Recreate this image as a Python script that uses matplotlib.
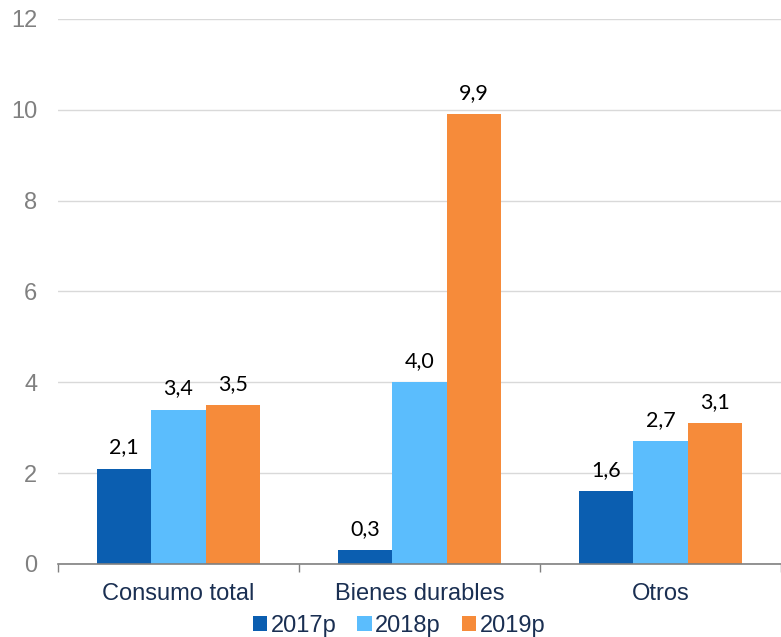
import numpy as np
import matplotlib
matplotlib.use("Agg")
import matplotlib.pyplot as plt

# Crecimiento del consumo por componente (%)
categories = ["Consumo total", "Bienes durables", "Otros"]
series_names = ["2017p", "2018p", "2019p"]
v2017 = [2.1, 0.3, 1.6]
v2018 = [3.4, 4.0, 2.7]
v2019 = [3.5, 9.9, 3.1]
yticks = [0, 2, 4, 6, 8, 10, 12]

colors = ["#0b5eb0", "#5bbdfd", "#f68b3a"]
text_font = "Liberation Sans"

fig = plt.figure(figsize=(7.81, 6.37), dpi=100)
ax = fig.add_axes([0.0743, 0.1146, 0.9257, 0.8556])

x = np.arange(len(categories))
width = 0.225
for i, (vals, name) in enumerate(zip([v2017, v2018, v2019], series_names)):
    bars = ax.bar(x + (i - 1) * width, vals, width, color=colors[i], label=name, zorder=3)
    for rect, v in zip(bars, vals):
        ax.annotate(f"{v:.1f}".replace(".", ","),
                    xy=(rect.get_x() + rect.get_width() / 2, rect.get_height()),
                    xytext=(0, 8), textcoords="offset points",
                    ha="center", va="bottom", fontsize=15.5, family="Lato", color="black")

ax.set_xlim(-0.5, len(categories) - 0.5)
ax.set_ylim(0, 12)
ax.set_yticks(yticks)
ax.set_yticklabels([str(t) for t in yticks], fontsize=17, family=text_font, color="#808080")
ax.tick_params(axis="y", length=0, pad=15)
ax.grid(axis="y", color="#d9d9d9", linewidth=1, zorder=0)

ax.set_xticks(x)
ax.set_xticklabels(categories, fontsize=17, family=text_font, color="#1a2f52")
ax.tick_params(axis="x", which="major", length=0, pad=14)
ax.set_xticks(np.arange(-0.5, len(categories)), minor=True)
ax.tick_params(axis="x", which="minor", length=6, width=1, color="#808080", direction="out")

for side in ["top", "right", "left"]:
    ax.spines[side].set_visible(False)
ax.spines["bottom"].set_color("#808080")
ax.spines["bottom"].set_linewidth(1.2)
ax.spines["bottom"].set_zorder(4)

fig.legend(loc="center", bbox_to_anchor=(0.511, 0.018), ncol=3, frameon=False,
           prop={"family": text_font, "size": 17}, handlelength=0.6, handleheight=0.6,
           handletextpad=0.15, columnspacing=0.9, labelcolor="#1a2f52")

fig.savefig("out.png", dpi=100)
